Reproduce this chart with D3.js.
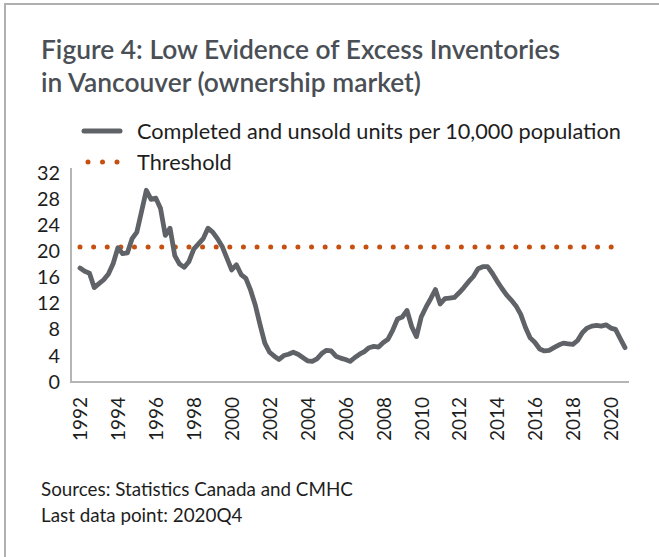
<!DOCTYPE html>
<html>
<head>
<meta charset="utf-8">
<script src="https://cdn.jsdelivr.net/npm/d3@7"></script>
<style>
  html, body { margin: 0; padding: 0; background: #fff; }
  svg { display: block; font-family: Lato, "Open Sans", sans-serif; }
</style>
</head>
<body>
<svg id="chart" width="659" height="557"></svg>
<script>
// ---- Data ----
const years = d3.range(1992, 2021);
const quarters = ["Q1", "Q2", "Q3", "Q4"];
const categories = d3.cross(years, quarters).map(([y, q]) => y + q);

const unsoldPer10k = [
  17.3, 16.8, 16.5, 14.3, 14.9, 15.5, 16.4, 18.0,   // 1992-1993
  20.4, 19.5, 19.6, 21.8, 22.8, 26.0, 29.2, 27.8,   // 1994-1995
  28.0, 26.4, 22.3, 23.4, 19.2, 17.9, 17.4, 18.3,   // 1996-1997
  20.2, 21.0, 21.8, 23.4, 22.8, 21.8, 20.6, 18.8,   // 1998-1999
  17.0, 17.8, 16.3, 15.7, 13.9, 11.6, 8.6, 5.8,     // 2000-2001
  4.4, 3.8, 3.3, 3.9, 4.1, 4.4, 4.1, 3.6,           // 2002-2003
  3.1, 3.0, 3.4, 4.2, 4.7, 4.6, 3.8, 3.5,           // 2004-2005
  3.3, 3.0, 3.6, 4.1, 4.5, 5.1, 5.3, 5.2,           // 2006-2007
  5.9, 6.4, 7.8, 9.5, 9.8, 10.8, 8.3, 6.8,          // 2008-2009
  9.8, 11.3, 12.6, 14.0, 11.8, 12.6, 12.7, 12.8,    // 2010-2011
  13.5, 14.3, 15.2, 16.0, 17.2, 17.5, 17.5, 16.5,   // 2012-2013
  15.3, 14.2, 13.2, 12.4, 11.5, 10.2, 8.2, 6.6,     // 2014-2015
  5.9, 4.9, 4.6, 4.7, 5.1, 5.5, 5.8, 5.7,           // 2016-2017
  5.6, 6.2, 7.4, 8.1, 8.4, 8.5, 8.4, 8.6,           // 2018-2019
  8.1, 7.9, 6.5, 5.1                                // 2020
];
const thresholdValue = 20.5;
const thresholdEnd = "2020Q2";

const yTicks = [0, 4, 8, 12, 16, 20, 24, 28, 32];
const xTickLabels = ["1992","1994","1996","1998","2000","2002","2004","2006","2008","2010","2012","2014","2016","2018","2020"];

const titleLines = ["Figure 4: Low Evidence of Excess Inventories", "in Vancouver (ownership market)"];
const legendLabels = ["Completed and unsold units per 10,000 population", "Threshold"];
const noteLines = ["Sources: Statistics Canada and CMHC", "Last data point: 2020Q4"];

// ---- helpers ----
// scale a font size so that a reference string reaches a target width
function fitSize(sel, base, target) {
  const w = sel.node().getComputedTextLength();
  return w > 0 ? base * target / w : base;
}

// ---- Layout ----
const svg = d3.select("#chart");
const lineColor = "#5f6266";
const threshColor = "#c5500f";
const axisColor = "#b5b5b5";
const textColor = "#1e1e1e";
const titleColor = "#4a4f56";

// frame (left + top borders)
svg.append("line").attr("x1", 5).attr("x2", 659).attr("y1", 4).attr("y2", 4)
  .attr("stroke", "#b0b0b0").attr("stroke-width", 2);
svg.append("line").attr("x1", 5).attr("x2", 5).attr("y1", 3).attr("y2", 557)
  .attr("stroke", "#b0b0b0").attr("stroke-width", 2);

// title
const titleSel = svg.append("g").selectAll("text").data(titleLines).join("text")
  .attr("x", 41).attr("y", (d, i) => 59 + i * 33)
  .attr("fill", titleColor).attr("font-weight", 600).attr("font-size", 22)
  .text(d => d);
const titleSize = fitSize(titleSel.filter((d, i) => i === 0), 22, 519);
titleSel.attr("font-size", titleSize);

const x = d3.scalePoint().domain(categories).range([80, 625]);
const y = d3.scaleLinear().domain([0, 32]).range([381, 172]);

// axes
const axisLeft = 71, axisRight = 629, axisBottom = 382;
svg.append("line").attr("x1", axisLeft).attr("x2", axisLeft).attr("y1", 168).attr("y2", axisBottom)
  .attr("stroke", axisColor).attr("stroke-width", 2);
svg.append("line").attr("x1", axisLeft - 1).attr("x2", axisRight).attr("y1", axisBottom).attr("y2", axisBottom)
  .attr("stroke", axisColor).attr("stroke-width", 2);

const yAxis = d3.axisLeft(y).tickValues(yTicks).tickSize(0).tickPadding(0);
const gy = svg.append("g").attr("transform", `translate(60,0)`).call(yAxis);
gy.select(".domain").remove();
const yTxt = gy.selectAll("text").attr("font-size", 19).attr("fill", textColor)
  .attr("font-family", "Lato, 'Open Sans', sans-serif").attr("dy", "0.36em");
const yTickSize = fitSize(yTxt.filter(d => d === 32), 19, 23);
yTxt.attr("font-size", yTickSize);

const xAxis = d3.axisBottom(x)
  .tickValues(xTickLabels.map(t => t + "Q1"))
  .tickFormat(d => d.slice(0, 4)).tickSize(0);
const gx = svg.append("g").attr("transform", `translate(0,${axisBottom})`).call(xAxis);
gx.select(".domain").remove();
const xTxt = gx.selectAll("text")
  .attr("font-size", 19).attr("fill", textColor)
  .attr("font-family", "Lato, 'Open Sans', sans-serif")
  .attr("text-anchor", "end")
  .attr("transform", "rotate(-90)")
  .attr("x", -15).attr("y", 0).attr("dy", "0.36em");
const xTickSize = fitSize(xTxt.filter((d, i) => i === 0), 19, 44);
xTxt.attr("font-size", xTickSize);

// threshold
const threshData = categories.slice(0, categories.indexOf(thresholdEnd) + 1);
svg.append("path")
  .datum(threshData)
  .attr("fill", "none").attr("stroke", threshColor).attr("stroke-width", 5)
  .attr("stroke-linecap", "round").attr("stroke-dasharray", "0 13.62")
  .attr("d", d3.line().x(d => x(d)).y(() => y(thresholdValue)));

// main series
svg.append("path")
  .datum(unsoldPer10k)
  .attr("fill", "none").attr("stroke", lineColor).attr("stroke-width", 4.8)
  .attr("stroke-linejoin", "round").attr("stroke-linecap", "round")
  .attr("d", d3.line().x((d, i) => x(categories[i])).y(d => y(d)));

// legend
const lg = svg.append("g");
lg.append("line").attr("x1", 84).attr("x2", 120).attr("y1", 131).attr("y2", 131)
  .attr("stroke", lineColor).attr("stroke-width", 5).attr("stroke-linecap", "round");
lg.append("line").attr("x1", 88).attr("x2", 118).attr("y1", 162).attr("y2", 162)
  .attr("stroke", threshColor).attr("stroke-width", 5).attr("stroke-linecap", "round")
  .attr("stroke-dasharray", "0 14.5");
const lgTxt = lg.selectAll("text").data(legendLabels).join("text")
  .attr("x", 137).attr("y", (d, i) => 131 + i * 31).attr("dy", "0.36em")
  .attr("font-size", 20).attr("fill", textColor).text(d => d);
const lgSize = fitSize(lgTxt.filter((d, i) => i === 0), 20, 484);
lgTxt.attr("font-size", lgSize);

// notes
const noteTxt = svg.append("g").selectAll("text").data(noteLines).join("text")
  .attr("x", 41).attr("y", (d, i) => 496 + i * 26)
  .attr("font-size", 16).attr("fill", textColor).text(d => d);
const noteSize = fitSize(noteTxt.filter((d, i) => i === 0), 16, 312);
noteTxt.attr("font-size", noteSize);
</script>
</body>
</html>
